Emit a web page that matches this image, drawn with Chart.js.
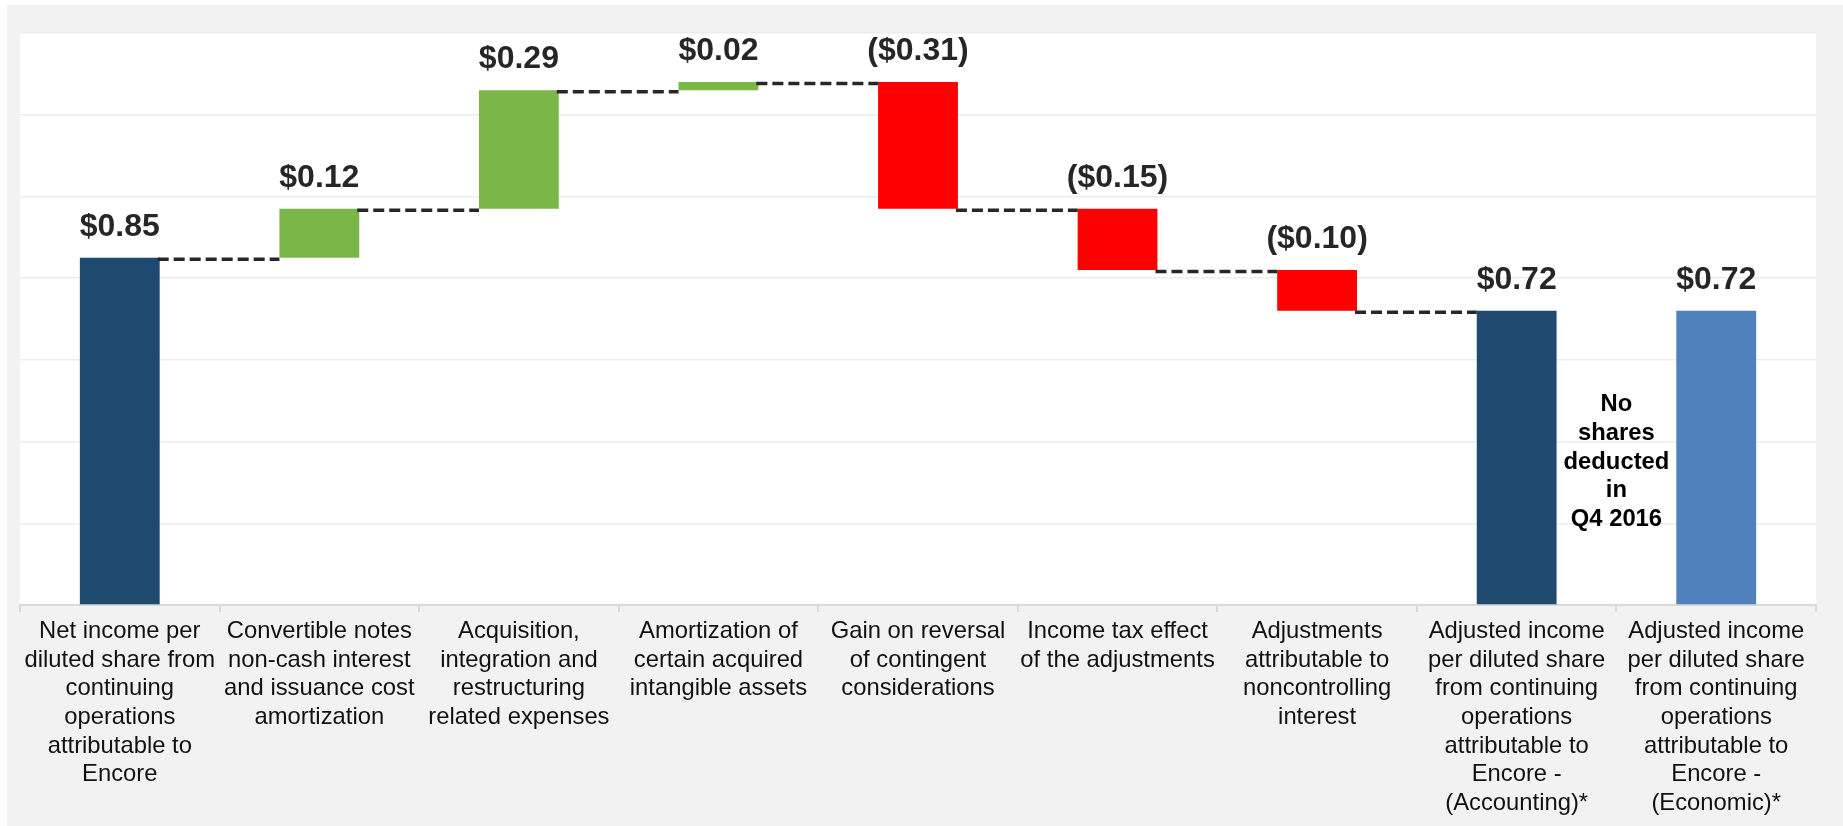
<!DOCTYPE html>
<html>
<head>
<meta charset="utf-8">
<script src="https://cdn.jsdelivr.net/npm/chart.js@4.4.0/dist/chart.umd.min.js"></script>
<style>
  html, body { margin: 0; padding: 0; background: #ffffff; }
  #panel { position: absolute; left: 7px; top: 5px; width: 1836px; height: 821px; background: #f2f2f2; }
</style>
</head>
<body>
<div id="panel"><canvas id="bridgeChart" width="1836" height="821"></canvas></div>
<script>
// Categories, one array of text lines per bar
const categories = [
    ['Net income per', 'diluted share from', 'continuing', 'operations', 'attributable to', 'Encore'],
    ['Convertible notes', 'non-cash interest', 'and issuance cost', 'amortization'],
    ['Acquisition,', 'integration and', 'restructuring', 'related expenses'],
    ['Amortization of', 'certain acquired', 'intangible assets'],
    ['Gain on reversal', 'of contingent', 'considerations'],
    ['Income tax effect', 'of the adjustments'],
    ['Adjustments', 'attributable to', 'noncontrolling', 'interest'],
    ['Adjusted income', 'per diluted share', 'from continuing', 'operations', 'attributable to', 'Encore -', '(Accounting)*'],
    ['Adjusted income', 'per diluted share', 'from continuing', 'operations', 'attributable to', 'Encore -', '(Economic)*']
];

// EPS change for each step (first and last two are totals)
const changes = [0.85, 0.12, 0.29, 0.02, -0.31, -0.15, -0.10, 0.72, 0.72];
const isTotal = [true, false, false, false, false, false, false, true, true];

// Note between the two adjusted bars
const noteLines = ['No', 'shares', 'deducted', 'in', 'Q4 2016'];

// Value axis
const yMin = 0;
const yMax = 1.4;
const yStep = 0.2;

// Build the floating bars [start, end] from the changes
const floatingBars = [];
const runningEnd = [];
let running = 0;
changes.forEach((v, i) => {
    if (isTotal[i]) {
        floatingBars.push([0, v]);
        running = v;
    } else {
        const next = Math.round((running + v) * 100) / 100;
        floatingBars.push([running, next]);
        running = next;
    }
    runningEnd.push(running);
});

const barColors = changes.map((v, i) => {
    if (i === changes.length - 1) return '#4f81bd';
    if (isTotal[i]) return '#1f4a6f';
    return v > 0 ? '#7ab648' : '#ff0000';
});

function formatValue(v) {
    const s = '$' + Math.abs(v).toFixed(2);
    return v < 0 ? '(' + s + ')' : s;
}

const FONT = '"Liberation Sans", Arial, sans-serif';

// White plot area on the grey panel
const plotBackground = {
    id: 'plotBackground',
    beforeDraw(chart) {
        const { ctx, chartArea } = chart;
        ctx.save();
        ctx.fillStyle = '#ffffff';
        ctx.fillRect(chartArea.left, chartArea.top, chartArea.right - chartArea.left, chartArea.bottom - chartArea.top);
        ctx.restore();
    }
};

// Dashed connectors between bars, value labels and note
const waterfallExtras = {
    id: 'waterfallExtras',
    afterDatasetsDraw(chart) {
        const { ctx } = chart;
        const yScale = chart.scales.y;
        const xScale = chart.scales.x;
        const bars = chart.getDatasetMeta(0).data;

        // connectors
        ctx.save();
        ctx.strokeStyle = '#262626';
        ctx.lineWidth = 3.5;
        ctx.setLineDash([11, 5]);
        for (let i = 0; i < bars.length - 1; i++) {
            if (isTotal[i] && isTotal[i + 1]) continue;
            const y = yScale.getPixelForValue(runningEnd[i]) + 1.5;
            ctx.beginPath();
            ctx.moveTo(bars[i].x + bars[i].width / 2 - 2, y);
            ctx.lineTo(bars[i + 1].x - bars[i + 1].width / 2, y);
            ctx.stroke();
        }
        ctx.restore();

        // value labels
        ctx.save();
        ctx.fillStyle = '#262626';
        ctx.font = 'bold 32px ' + FONT;
        ctx.textAlign = 'center';
        ctx.textBaseline = 'alphabetic';
        bars.forEach((bar, i) => {
            const top = Math.min(bar.y, bar.base);
            ctx.fillText(formatValue(changes[i]), bar.x, top - 22);
        });
        ctx.restore();

        // note
        ctx.save();
        ctx.fillStyle = '#000000';
        ctx.font = 'bold 23.8px ' + FONT;
        ctx.textAlign = 'center';
        ctx.textBaseline = 'middle';
        const nx = xScale.getPixelForValue(7.5);
        const ny = yScale.getPixelForValue(0.35);
        const lh = 28.6;
        noteLines.forEach((line, k) => {
            ctx.fillText(line, nx, ny + (k - (noteLines.length - 1) / 2) * lh);
        });
        ctx.restore();
    }
};

const bridgeChart = new Chart('bridgeChart', {
    type: 'bar',
    data: {
        labels: categories,
        datasets: [{
            data: floatingBars,
            backgroundColor: barColors,
            borderWidth: 0,
            barPercentage: 0.4,
            categoryPercentage: 1.0
        }]
    },
    options: {
        responsive: false,
        animation: false,
        devicePixelRatio: 1,
        layout: { padding: { left: 13, top: 28, right: 27, bottom: 0 } },
        plugins: {
            legend: { display: false },
            tooltip: { enabled: false }
        },
        scales: {
            x: {
                grid: { drawOnChartArea: false, drawTicks: true, tickLength: 7, color: '#d9d9d9', lineWidth: 2 },
                border: { display: true, color: '#d9d9d9', width: 2 },
                ticks: {
                    autoSkip: false,
                    maxRotation: 0,
                    minRotation: 0,
                    padding: 5,
                    color: '#111111',
                    font: { family: FONT, size: 23.8, lineHeight: 1.205 }
                },
                afterFit(scale) { scale.height = 221; }
            },
            y: {
                min: yMin,
                max: yMax,
                ticks: { display: false, stepSize: yStep },
                grid: { color: '#ececec', lineWidth: 1.5, drawTicks: false },
                border: { display: false },
                afterFit(scale) { scale.width = 0; }
            }
        }
    },
    plugins: [plotBackground, waterfallExtras]
});
</script>
</body>
</html>
